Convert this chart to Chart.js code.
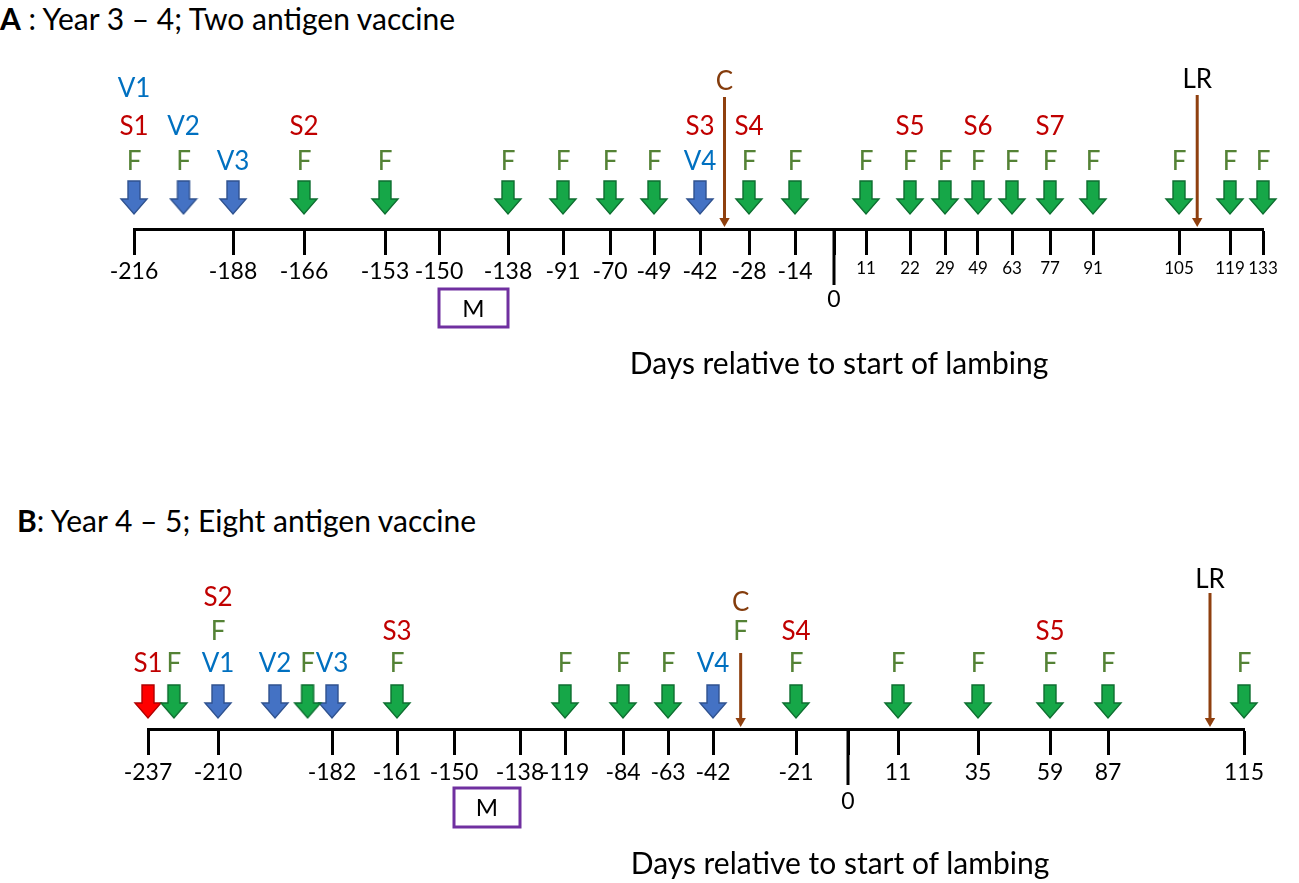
<!DOCTYPE html>
<html>
<head>
<meta charset="utf-8">
<script src="https://cdn.jsdelivr.net/npm/chart.js@4.4.1/dist/chart.umd.min.js"></script>
<style>
  body { margin: 0; background: #fff; width: 1299px; height: 883px; overflow: hidden; position: relative; font-family: Lato, sans-serif; }
  canvas { position: absolute; left: 0; }
  .title { position: absolute; font-size: 30px; line-height: 30px; color: #000; white-space: nowrap; }
  .xtitle { position: absolute; font-size: 30px; line-height: 30px; color: #000; white-space: nowrap; transform: translateX(-50%); }
</style>
</head>
<body>
<div class="title" style="left:0; top:3px;"><b>A</b> : Year 3 – 4; Two antigen vaccine</div>
<canvas id="panelA" width="1299" height="440" style="top:0"></canvas>
<div class="xtitle" style="left:839px; top:347px;">Days relative to start of lambing</div>

<div class="title" style="left:17px; top:505px;"><b>B</b>: Year 4 – 5; Eight antigen vaccine</div>
<canvas id="panelB" width="1299" height="443" style="top:440px"></canvas>
<div class="xtitle" style="left:840px; top:847px;">Days relative to start of lambing</div>

<script>
// ---- panel A : year 3-4, two antigen vaccine ----
let ticksA = [-216, -188, -166, -153, -150, -138, -91, -70, -49, -42, -28, -14, 0, 11, 22, 29, 49, 63, 77, 91, 105, 119, 133];
let greenA = [-166, -153, -138, -91, -70, -49, -28, -14, 11, 22, 29, 49, 63, 77, 91, 105, 119, 133];
let blueA = [-216, -202, -188, -42];
let redA = [];
let stacksA = [
  [-216, ['F', 'S1', 'V1']], [-202, ['F', 'V2']], [-188, ['V3']], [-166, ['F', 'S2']],
  [-153, ['F']], [-138, ['F']], [-91, ['F']], [-70, ['F']], [-49, ['F']],
  [-42, ['V4', 'S3']], [-28, ['F', 'S4']], [-14, ['F']],
  [11, ['F']], [22, ['F', 'S5']], [29, ['F']], [49, ['F', 'S6']], [63, ['F']],
  [77, ['F', 'S7']], [91, ['F']], [105, ['F']], [119, ['F']], [133, ['F']]
];
let eventsA = [-35, 110];
let matingA = [-150, -138];

// ---- panel B : year 4-5, eight antigen vaccine ----
let ticksB = [-237, -210, -182, -161, -150, -138, -119, -84, -63, -42, -21, 0, 11, 35, 59, 87, 115];
let greenB = [-227, -188, -161, -119, -84, -63, -21, 11, 35, 59, 87, 115];
let blueB = [-210, -196, -182, -42];
let redB = [-237];
let stacksB = [
  [-237, ['S1']], [-227, ['F']], [-210, ['V1', 'F', 'S2']], [-196, ['V2']], [-188, ['F']],
  [-182, ['V3']], [-161, ['F', 'S3']], [-119, ['F']], [-84, ['F']], [-63, ['F']],
  [-42, ['V4']], [-35, ['', 'F']], [-21, ['F', 'S4']], [11, ['F']], [35, ['F']],
  [59, ['F', 'S5']], [87, ['F']], [115, ['F']]
];
let eventsB = [-35, 108];
let matingB = [-150, -138];

let eventNames = ['C', 'LR'];

// the day axis of the figure is a schematic, not to scale: relative spacing of the ticks
let spacingA = [0, 99, 170, 251, 305, 374, 429, 476, 520, 566, 615, 661, 700, 732, 776, 811, 844, 878, 916, 959, 1045, 1096, 1129];
let spacingB = [0, 70, 184, 249, 306, 372, 417, 475, 520, 565, 648, 700, 750, 830, 902, 960, 1096];

let labelColor = { F: '#548235', S: '#c00000', V: '#0070c0' };
let eventColor = ['#843c0c', '#000000'];
let lineColor = '#8f400f';

// piecewise scale: maps a day onto the uneven schematic spacing
class SchematicScale extends Chart.LinearScale {
  buildTicks() {
    return this.options.anchors.map(v => ({ value: v }));
  }
  _pos(value) {
    let a = this.options.anchors, s = this.options.spacing, n = a.length;
    let i = 0;
    while (i < n - 2 && value > a[i + 1]) i++;
    return s[i] + (value - a[i]) / (a[i + 1] - a[i]) * (s[i + 1] - s[i]);
  }
  getPixelForValue(value) {
    let s = this.options.spacing;
    return this.left + this._pos(value) / s[s.length - 1] * this.width;
  }
  getValueForPixel(pixel) {
    let a = this.options.anchors, s = this.options.spacing, n = a.length;
    let p = (pixel - this.left) / this.width * s[n - 1];
    let i = 0;
    while (i < n - 2 && p > s[i + 1]) i++;
    return a[i] + (p - s[i]) / (s[i + 1] - s[i]) * (a[i + 1] - a[i]);
  }
}
SchematicScale.id = 'schematic';
SchematicScale.defaults = {};
Chart.register(SchematicScale);

let arrowImage = (fill, stroke) => {
  let c = document.createElement('canvas');
  c.width = 30; c.height = 36;
  let g = c.getContext('2d');
  g.beginPath();
  g.moveTo(9, 1); g.lineTo(21, 1); g.lineTo(21, 19); g.lineTo(28, 19);
  g.lineTo(15, 34); g.lineTo(2, 19); g.lineTo(9, 19); g.closePath();
  g.fillStyle = fill; g.fill();
  g.lineWidth = 1.4; g.strokeStyle = stroke; g.stroke();
  return c;
};
let greenArrow = arrowImage('#16a748', '#0e6e30');
let blueArrow = arrowImage('#4472c4', '#2f528f');
let redArrow = arrowImage('#ff0000', '#b00000');

let annotations = {
  id: 'annotations',
  afterDatasetsDraw(chart, args, opts) {
    let ctx = chart.ctx, x = chart.scales.x, y = chart.scales.y;
    ctx.save();
    ctx.textAlign = 'center';
    ctx.textBaseline = 'middle';
    ctx.font = '26px Lato';
    opts.stacks.forEach(([day, texts]) => {
      texts.forEach((t, i) => {
        if (!t) return;
        ctx.fillStyle = labelColor[t[0]];
        ctx.fillText(t, x.getPixelForValue(day), y.getPixelForValue(opts.rows[i]));
      });
    });
    opts.events.forEach((day, i) => {
      ctx.fillStyle = eventColor[i];
      ctx.fillText(eventNames[i], x.getPixelForValue(day), y.getPixelForValue(opts.eventLabelY[i]));
    });
    // mating period box
    let x1 = x.getPixelForValue(opts.mating[0]), x2 = x.getPixelForValue(opts.mating[1]);
    let y1 = y.getPixelForValue(-opts.boxTop), y2 = y.getPixelForValue(-opts.boxBottom);
    ctx.strokeStyle = '#7030a0';
    ctx.lineWidth = 3;
    ctx.strokeRect(x1, y1, x2 - x1, y2 - y1);
    ctx.fillStyle = '#000';
    ctx.font = '24px Lato';
    ctx.fillText('M', (x1 + x2) / 2, (y1 + y2) / 2 + 1);
    ctx.restore();
  }
};

let arrowSet = (days, img, h) => ({
  type: 'scatter',
  data: days.map(d => ({ x: d, y: h })),
  pointStyle: img,
  pointRadius: 10,
  clip: false
});

let eventLine = (day, top) => ({
  type: 'line',
  data: [{ x: day, y: top }, { x: day, y: 8 }],
  borderColor: lineColor,
  borderWidth: 3,
  pointRadius: [0, 6],
  pointStyle: 'triangle',
  rotation: 180,
  pointBackgroundColor: lineColor,
  pointBorderColor: lineColor,
  pointBorderWidth: 0,
  clip: false
});

let timeline = (id, p) => {
  let last = p.ticks.length - 1;
  let datasets = [
    arrowSet(p.green, greenArrow, p.arrowY),
    arrowSet(p.blue, blueArrow, p.arrowY),
    arrowSet(p.red, redArrow, p.arrowY),
    { type: 'line', data: [{ x: 0, y: 0 }, { x: 0, y: -56 }], borderColor: '#000', borderWidth: 3, pointRadius: 0, clip: false }
  ];
  p.events.forEach((d, i) => datasets.push(eventLine(d, p.lineTop[i])));
  return new Chart(document.getElementById(id), {
    type: 'scatter',
    data: { datasets: datasets },
    options: {
      responsive: false,
      animation: false,
      events: [],
      layout: { padding: { top: p.padTop, left: p.left, right: 1299 - p.right, bottom: 0 } },
      plugins: {
        legend: { display: false },
        tooltip: { enabled: false },
        annotations: {
          stacks: p.stacks, rows: p.rows, events: p.events, eventLabelY: p.eventLabelY,
          mating: p.mating, boxTop: p.boxTop, boxBottom: p.boxBottom
        }
      },
      scales: {
        x: {
          type: 'schematic',
          anchors: p.ticks,
          spacing: p.spacing,
          min: p.ticks[0],
          max: p.ticks[last],
          afterFit: s => { s.height = p.axisHeight; },
          border: { display: true, color: '#000', width: 3 },
          grid: { drawOnChartArea: false, drawTicks: true, tickLength: 26, tickWidth: 3, tickColor: '#000' },
          ticks: {
            autoSkip: false, maxRotation: 0, minRotation: 0, padding: 3, color: '#000',
            font: c => ({ family: 'Lato', size: (p.smallRight && c.tick && c.tick.value > 0) ? 17 : 23, lineHeight: p.lineHeight }),
            callback: v => v === 0 ? ['', '0'] : String(v)
          }
        },
        y: { display: false, min: 0, max: 170 }
      }
    },
    plugins: [annotations]
  });
};

timeline('panelA', {
  ticks: ticksA, spacing: spacingA, green: greenA, blue: blueA, red: redA, stacks: stacksA,
  events: eventsA, mating: matingA, smallRight: true, lineHeight: 1.2,
  left: 134, right: 1263, padTop: 59, axisHeight: 211,
  arrowY: 31, rows: [67, 102, 140], lineTop: [132, 134], eventLabelY: [147, 149],
  boxTop: 60, boxBottom: 98
});

timeline('panelB', {
  ticks: ticksB, spacing: spacingB, green: greenB, blue: blueB, red: redB, stacks: stacksB,
  events: eventsB, mating: matingB, smallRight: false, lineHeight: 1.25,
  left: 148, right: 1244, padTop: 119, axisHeight: 154,
  arrowY: 27, rows: [65, 97, 131], lineTop: [76, 136], eventLabelY: [126, 149],
  boxTop: 59, boxBottom: 98
});
</script>
</body>
</html>
